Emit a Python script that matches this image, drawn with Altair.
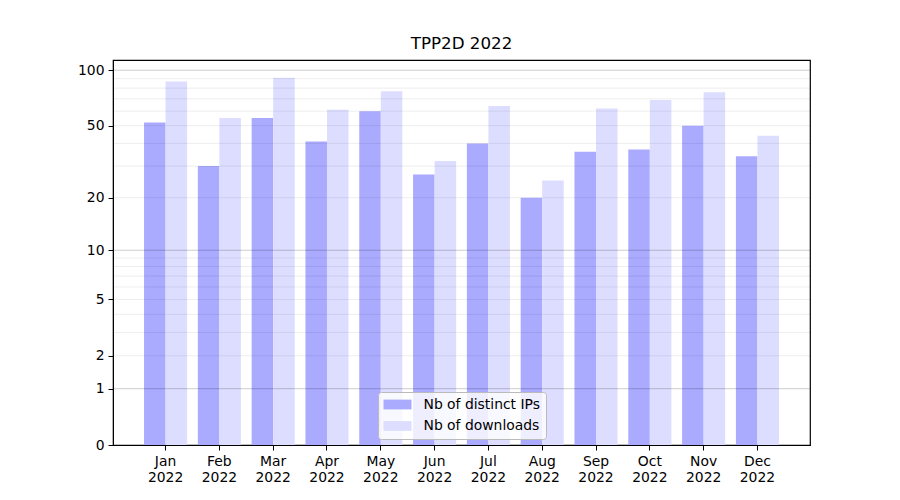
import altair as alt
import pandas as pd

months = ["Jan 2022", "Feb 2022", "Mar 2022", "Apr 2022", "May 2022", "Jun 2022",
          "Jul 2022", "Aug 2022", "Sep 2022", "Oct 2022", "Nov 2022", "Dec 2022"]
distinct_ips = [52, 30, 55, 41, 60, 27, 40, 20, 36, 37, 50, 34]
downloads = [87, 55, 91, 61, 77, 32, 64, 25, 62, 69, 76, 44]
series_names = ["Nb of distinct IPs", "Nb of downloads"]
series_colors = ["#aaaaff", "#ddddff"]
y_ticks = [0, 1, 2, 5, 10, 20, 50, 100]
major_grid = [1, 10, 100]
minor_grid = [2, 3, 4, 5, 6, 7, 8, 9, 20, 30, 40, 50, 60, 70, 80, 90]

rows = []
for m, a, b in zip(months, distinct_ips, downloads):
    rows.append({"month": m, "series": series_names[0], "value": a})
    rows.append({"month": m, "series": series_names[1], "value": b})
df = pd.DataFrame(rows)

W, H = 697, 385
FONT = "DejaVu Sans"

yscale = alt.Scale(type="symlog", constant=1, domain=[0, 113.5], nice=False, zero=True)

bars = alt.Chart(df).mark_bar().encode(
    x=alt.X("month:N", sort=months,
            scale=alt.Scale(paddingInner=0.2, paddingOuter=0.577),
            axis=alt.Axis(title=None, labelAngle=0, labelExpr="split(datum.value, ' ')",
                          labelLineHeight=16.5, labelFont=FONT, labelFontSize=13.9,
                          labelColor="black", tickColor="black", tickSize=5,
                          domainColor="black", labelPadding=4, grid=False)),
    xOffset=alt.XOffset("series:N", sort=series_names,
                        scale=alt.Scale(paddingInner=0, paddingOuter=0)),
    y=alt.Y("value:Q", scale=yscale,
            axis=alt.Axis(title=None, values=y_ticks, labelFont=FONT, labelFontSize=13.9,
                          labelColor="black", tickColor="black", tickSize=5,
                          domainColor="black", labelPadding=4, grid=False,
                          labelFlush=False)),
    color=alt.Color("series:N", sort=series_names,
                    scale=alt.Scale(domain=series_names, range=series_colors),
                    legend=alt.Legend(title=None, orient="none", legendX=265, legendY=332,
                                      labelFont=FONT, labelFontSize=13.9, labelColor="black",
                                      symbolType="M-1,-0.7H3V0.7H-1Z", symbolSize=196,
                                      symbolStrokeWidth=0, symbolOpacity=1,
                                      rowPadding=7.5, labelOffset=26,
                                      strokeColor="#bbbbbb", fillColor="rgba(255,255,255,0.8)",
                                      cornerRadius=3, padding=5.5)),
)

major_df = pd.DataFrame({"v": major_grid})
minor_df = pd.DataFrame({"v": minor_grid})

minor_rules = alt.Chart(minor_df).mark_rule(color="black", opacity=0.07, strokeWidth=1).encode(
    y=alt.Y("v:Q", scale=yscale), x=alt.value(0), x2=alt.value(W))
major_rules = alt.Chart(major_df).mark_rule(color="black", opacity=0.2, strokeWidth=1).encode(
    y=alt.Y("v:Q", scale=yscale), x=alt.value(0), x2=alt.value(W))

chart = alt.layer(bars, minor_rules, major_rules).properties(
    width=W, height=H,
    title=alt.Title("TPP2D 2022", font=FONT, fontSize=16.7, fontWeight="normal",
                    color="black", offset=7),
    padding={"left": 105, "top": 52, "right": 82, "bottom": 47},
    autosize="none",
    view=alt.ViewBackground(stroke="black", strokeWidth=1.2, fill="white"),
).configure(background="white")

chart.save("out.html", embed_options={"renderer": "svg", "actions": False})
